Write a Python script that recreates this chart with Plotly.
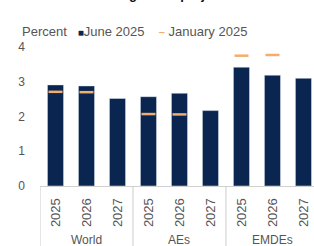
import plotly.graph_objects as go

groups = ["World", "AEs", "EMDEs"]
years = ["2025", "2026", "2027"]
june_2025 = [2.91, 2.88, 2.52, 2.57, 2.67, 2.17, 3.42, 3.19, 3.10]
jan_2025 = [2.71, 2.70, None, 2.07, 2.06, None, 3.75, 3.77, None]

NAVY = "#0a2550"
ORANGE = "#f3ad6e"
GREY = "#555555"

labels = [y for g in groups for y in years]
xs = list(range(len(labels)))

fig = go.Figure()
fig.add_trace(go.Bar(x=xs, y=june_2025, marker_color=NAVY, width=0.52,
                     name="June 2025", showlegend=False))
fig.add_trace(go.Scatter(x=xs, y=jan_2025, mode="markers", name="January 2025",
                         marker=dict(symbol="line-ew-open", size=10, color=ORANGE,
                                     line=dict(color=ORANGE, width=2.5)),
                         showlegend=False))

n = len(years)
for i, g in enumerate(groups):
    fig.add_annotation(x=i * n + (n - 1) / 2, y=-0.39, xref="x", yref="paper",
                       text=g, showarrow=False, yanchor="middle",
                       font=dict(size=12, color=GREY))
    fig.add_shape(type="line", x0=i * n - 0.5, x1=i * n - 0.5, xref="x",
                  y0=0, y1=-0.5, yref="paper",
                  line=dict(color="#cccccc", width=1))

fig.add_annotation(x=-0.073, y=1.115, xref="paper", yref="paper", xanchor="left",
                   yanchor="middle", showarrow=False,
                   text=("Percent   <span style='color:%s;font-size:10px'>■</span>June 2025    "
                         "<span style='color:%s;font-size:11px'><b>–</b></span> January 2025") % (NAVY, ORANGE),
                   font=dict(size=13, color=GREY))

fig.add_annotation(x=-0.12, y=1.31, xref="paper", yref="paper", xanchor="left",
                   yanchor="bottom", showarrow=False,
                   text="<b>B. Real investment growth: projections</b>",
                   font=dict(size=13, color="#111111"))

fig.update_layout(
    width=314, height=246,
    margin=dict(l=40, r=0, t=47, b=60),
    paper_bgcolor="white", plot_bgcolor="white",
    font=dict(family="Liberation Sans, Arial, sans-serif", size=12, color=GREY),
)
fig.update_xaxes(range=[-0.5, 8.34], tickvals=xs, ticktext=labels, tickangle=-90,
                 showline=True, linecolor="#d0d0d0", linewidth=1, ticks="",
                 showgrid=False, zeroline=False, tickfont=dict(size=13, color=GREY),
                 ticklabelstandoff=6, automargin=False)
fig.update_yaxes(range=[0, 4], dtick=1, showgrid=False, zeroline=False,
                 showline=False, ticks="", tickfont=dict(size=12, color=GREY),
                 ticklabelstandoff=14, automargin=False)

fig.write_html("out.html", config={"displayModeBar": False},
               post_script="document.body.style.margin='0px';")
